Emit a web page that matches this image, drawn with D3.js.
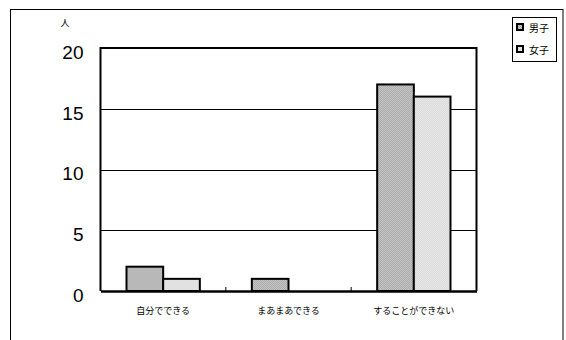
<!DOCTYPE html>
<html>
<head>
<meta charset="utf-8">
<script src="https://cdn.jsdelivr.net/npm/d3@7"></script>
<style>
  html, body { margin: 0; padding: 0; background: #fff; }
  svg { display: block; }
</style>
</head>
<body>
<svg id="chart" width="566" height="340"></svg>
<script>
// Survey answers (people) by response category
const categories = ["自分でできる", "まあまあできる", "することができない"];
const seriesNames = ["男子", "女子"];
const boys = [2, 1, 17];
const girls = [1, 0, 16];
const yTicks = [0, 5, 10, 15, 20];
const unitLabel = "人";

const svg = d3.select("#chart");
const W = 566, H = 340;
const margin = { left: 100.5, right: 89.5, top: 48, bottom: 49 };
const plotW = W - margin.left - margin.right;
const plotH = H - margin.top - margin.bottom;

const jpFont = "'Noto Sans CJK JP', sans-serif";
const numFont = "'Liberation Sans', Arial, sans-serif";

// stippled fills for the two series
const defs = svg.append("defs");
function checker(id, a, b) {
  const p = defs.append("pattern").attr("id", id)
    .attr("width", 2).attr("height", 2).attr("patternUnits", "userSpaceOnUse");
  p.append("rect").attr("width", 2).attr("height", 2).attr("fill", a);
  p.append("rect").attr("width", 1).attr("height", 1).attr("fill", b);
  p.append("rect").attr("x", 1).attr("y", 1).attr("width", 1).attr("height", 1).attr("fill", b);
}
checker("boysFill", "#c8c8c8", "#a8a8a8");
checker("girlsFill", "#ececec", "#d6d6d6");
const fills = ["url(#boysFill)", "url(#girlsFill)"];

// outer frame
svg.append("rect").attr("x", 10.5).attr("y", 9.5).attr("width", 552.5).attr("height", 340)
  .attr("fill", "none").attr("stroke", "#000").attr("stroke-width", 1);

const g = svg.append("g").attr("transform", `translate(${margin.left},${margin.top})`);

const x = d3.scaleBand().domain(categories).range([0, plotW]).paddingInner(0).paddingOuter(0);
const x1 = d3.scaleBand().domain(seriesNames).range([26, x.bandwidth() - 26]).padding(0);
const y = d3.scaleLinear().domain([0, 20]).range([plotH, 0]);

// gridlines
g.append("g").selectAll("line").data(yTicks.filter(d => d > 0 && d < 20)).join("line")
  .attr("x1", 0).attr("x2", plotW)
  .attr("y1", d => Math.round(y(d)) + 0.5).attr("y2", d => Math.round(y(d)) + 0.5)
  .attr("stroke", "#000").attr("stroke-width", 1);

// bars
const data = categories.map((c, i) => ({ c, vals: [boys[i], girls[i]] }));
const groups = g.append("g").selectAll("g").data(data).join("g")
  .attr("transform", d => `translate(${x(d.c)},0)`);
groups.selectAll("rect").data(d => d.vals.map((v, k) => ({ v, k })).filter(e => e.v > 0)).join("rect")
  .attr("x", d => x1(seriesNames[d.k]))
  .attr("y", d => y(d.v))
  .attr("width", x1.bandwidth())
  .attr("height", d => y(0) - y(d.v))
  .attr("fill", d => fills[d.k])
  .attr("stroke", "#000").attr("stroke-width", 2);

// plot frame: left, top, right
g.append("path")
  .attr("d", `M0,${plotH} V0 H${plotW} V${plotH}`)
  .attr("fill", "none").attr("stroke", "#000").attr("stroke-width", 2);

// category axis
const xAxis = g.append("g").attr("transform", `translate(0,${plotH})`)
  .call(d3.axisBottom(x).tickSize(0).tickPadding(17));
xAxis.select(".domain").attr("stroke", "#000").attr("stroke-width", 2.5);
xAxis.selectAll("text").attr("font-family", jpFont).attr("font-size", 9).attr("fill", "#000");
// inner separators between categories
g.append("g").selectAll("line").data(categories.slice(1)).join("line")
  .attr("x1", d => x(d)).attr("x2", d => x(d))
  .attr("y1", plotH - 4).attr("y2", plotH)
  .attr("stroke", "#000").attr("stroke-width", 1);

// value axis
const yAxis = g.append("g").call(d3.axisLeft(y).tickValues(yTicks).tickSize(0).tickPadding(17));
yAxis.select(".domain").remove();
yAxis.selectAll("text").attr("font-family", numFont).attr("font-size", 19).attr("fill", "#000")
  .attr("dy", "0.55em");

// unit label
svg.append("text").attr("x", 65).attr("y", 26).attr("text-anchor", "middle")
  .attr("font-family", jpFont).attr("font-size", 9).text(unitLabel);

// legend
const lg = svg.append("g").attr("transform", "translate(512,17)");
lg.append("rect").attr("x", 0.5).attr("y", 0.5).attr("width", 44).attr("height", 44)
  .attr("fill", "#fff").attr("stroke", "#000").attr("stroke-width", 1);
const items = lg.selectAll("g.item").data(seriesNames).join("g").attr("class", "item")
  .attr("transform", (d, i) => `translate(0,${11 + i * 22})`);
items.append("rect").attr("x", 5).attr("y", -4).attr("width", 6).attr("height", 6)
  .attr("fill", (d, i) => fills[i]).attr("stroke", "#000").attr("stroke-width", 2);
items.append("text").attr("x", 17).attr("y", 4)
  .attr("font-family", jpFont).attr("font-size", 10).text(d => d);
</script>
</body>
</html>
